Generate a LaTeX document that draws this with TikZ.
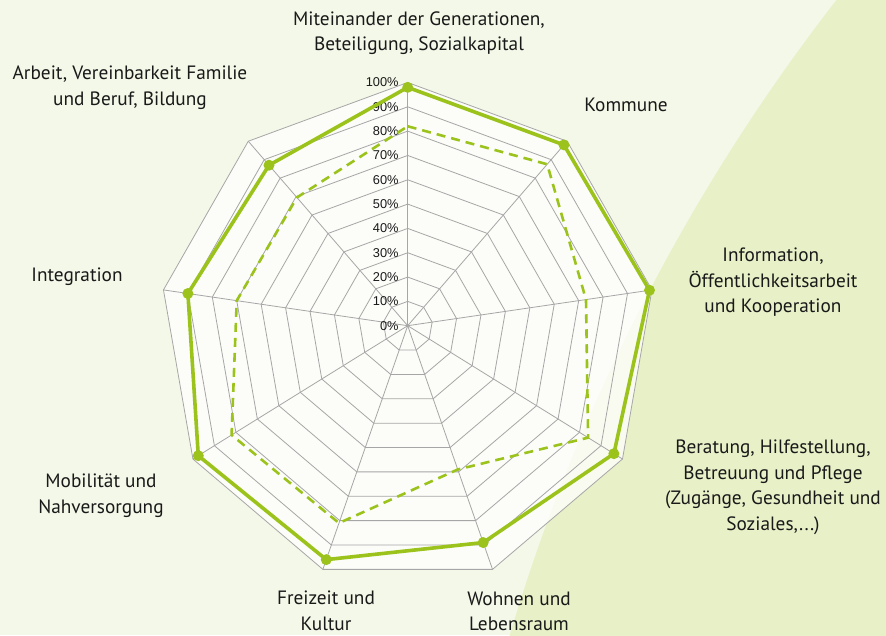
\documentclass[tikz,border=0pt]{standalone}
\usepackage{fontspec}
\setmainfont{PT Sans}
\newfontfamily\pctfont{Liberation Sans}
\definecolor{bgleft}{HTML}{F4F8E8}
\definecolor{bgright}{HTML}{E8F0C8}
\definecolor{gridgray}{HTML}{A6A6A6}
\definecolor{lime}{HTML}{9BC31C}

\begin{document}
\begin{tikzpicture}[x=1pt,y=1pt,
    gridline/.style={draw=gridgray,line width=0.8pt},
    fullline/.style={draw=lime,line width=3.6pt,line join=round},
    dashline/.style={draw=lime,line width=2.6pt,dash pattern=on 9pt off 6pt},
    axlabel/.style={font=\fontsize{19.3}{25.5}\selectfont,align=center,text=black!90},
    pct/.style={font=\pctfont\fontsize{12.8}{12.8}\selectfont,anchor=east,inner sep=0pt,text=black!90}]
    \useasboundingbox (0,0) rectangle (886,635);
    \fill[bgleft] (0,0) rectangle (886,635);
    \begin{scope}
        \clip (0,0) rectangle (886,635);
        \fill[bgright] (2366,-552) circle (1936);
    \end{scope}
    \begin{scope}[shift={(407.7,309.3)}]
        \coordinate (c) at (0,0);
        \fill[white,opacity=0.75] plot[samples at={90,50,...,-230}] ({248*cos(\x)},{251*sin(\x)-7.8}) -- cycle;
        \foreach \k in {1,...,10}{
            \draw[gridline] plot[samples at={90,50,...,-230}] ({24.8*\k*cos(\x)},{25.1*\k*sin(\x)-0.78*\k}) -- cycle;
        }
        \foreach \a in {90,50,...,-230}{
            \draw[gridline] (c) -- ({248*cos(\a)},{251*sin(\a)-7.8});
        }
        \foreach \k [evaluate=\k as \p using int(10*\k)] in {0,...,10}{
            \node[pct] (t\k) at (-9,{24.32*\k}) {\p\%};
        }
        \foreach \v [count=\i from 0, evaluate=\i as \a using 90-40*\i] in {0.82,0.875,0.73,0.84,0.59,0.81,0.82,0.70,0.695}{
            \coordinate (d\i) at ({248*\v*cos(\a)},{251*\v*sin(\a)-7.8*\v});
        }
        \foreach \v [count=\i from 0, evaluate=\i as \a using 90-40*\i] in {0.98,0.98,0.99,0.96,0.89,0.96,0.975,0.90,0.87}{
            \coordinate (s\i) at ({248*\v*cos(\a)},{251*\v*sin(\a)-7.8*\v});
        }
        \draw[dashline] (d0) \foreach \i in {1,...,8}{ -- (d\i)} -- cycle;
        \draw[fullline] (s0) \foreach \i in {1,...,8}{ -- (s\i)} -- cycle;
        \foreach \i in {0,...,8}{
            \fill[lime] (s\i) circle (5.5);
        }
    \end{scope}
    \node[axlabel] (lmit) at (419,602) {Miteinander der Generationen,\\Beteiligung, Sozialkapital};
    \node[axlabel] (lkom) at (626,530) {Kommune};
    \node[axlabel] (linf) at (773,352.5) {Information,\\Öffentlichkeitsarbeit\\und Kooperation};
    \node[axlabel] (lber) at (773,147.5) {Beratung, Hilfestellung,\\Betreuung und Pflege\\(Zugänge, Gesundheit und\\Soziales,...)};
    \node[axlabel] (lwoh) at (519,23.5) {Wohnen und\\Lebensraum};
    \node[axlabel] (lfre) at (326,24) {Freizeit und\\Kultur};
    \node[axlabel] (lmob) at (101,139.5) {Mobilität und\\Nahversorgung};
    \node[axlabel] (lint) at (77,358) {Integration};
    \node[axlabel] (larb) at (130,547.5) {Arbeit, Vereinbarkeit Familie\\und Beruf, Bildung};
\end{tikzpicture}
\end{document}
